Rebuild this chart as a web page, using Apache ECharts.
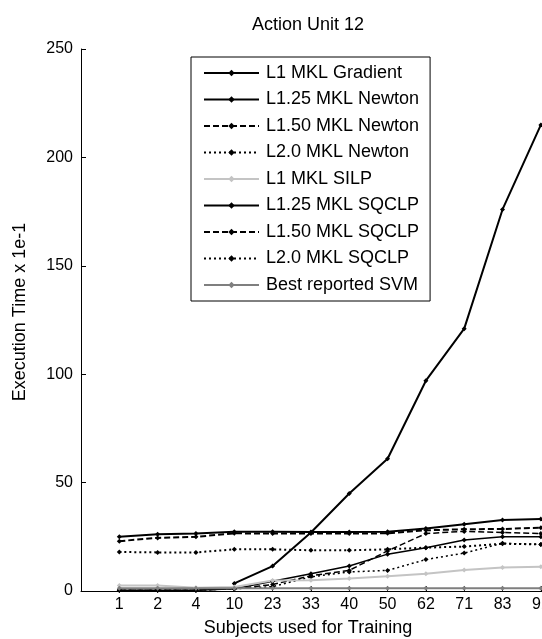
<!DOCTYPE html>
<html>
<head>
<meta charset="utf-8">
<script src="https://cdn.jsdelivr.net/npm/echarts@6/dist/echarts.min.js"></script>
<style>
  html, body { margin: 0; padding: 0; background: #fff; }
  #chart { width: 542px; height: 639px; }
</style>
</head>
<body>
<div id="chart"></div>
<script>
// subjects used for training (x categories)
const subjects = ["1", "2", "4", "10", "23", "33", "40", "50", "62", "71", "83", "91"];
const yTicks = [0, 50, 100, 150, 200, 250];

// execution time x 1e-1
const l1Gradient   = [null, null, null, 3.5, 11.5, 27, 45, 61, 97, 121, 176, 215];
const l125Newton   = [0.4, 0.4, 0.4, 1, 4.5, 8, 11.5, 17, 20, 23.5, 25, 25];
const l150Newton   = [0.4, 0.4, 0.4, 1, 3, 7, 9.5, 18.5, 26.5, 27.5, 27, 26.5];
const l20Newton    = [0.4, 0.4, 0.4, 1, 2, 6.5, 8.8, 9.5, 14.5, 17.5, 22, 21.5];
const l1Silp       = [2.5, 2.5, 1.5, 1.8, 4.8, 5, 5.8, 6.8, 8, 9.7, 10.8, 11.2];
const l125Sqclp    = [25, 26.2, 26.5, 27.3, 27.3, 27.2, 27.2, 27.3, 28.8, 30.8, 32.8, 33.2];
const l150Sqclp    = [23, 24.5, 25, 26.6, 26.5, 26.5, 26.5, 26.6, 28, 28.5, 28.6, 29.2];
const l20Sqclp     = [18, 17.8, 17.8, 19.2, 19.2, 18.8, 18.8, 19.2, 20, 20.5, 21.8, 21.5];
const bestSvm      = [1.3, 1.3, 1.3, 1.3, 1.3, 1.3, 1.3, 1.3, 1.3, 1.3, 1.3, 1.3];

const seriesDefs = [
  { name: "L1 MKL Gradient",    data: l1Gradient, color: "#000", width: 2,   type: "solid" },
  { name: "L1.25 MKL Newton",   data: l125Newton, color: "#000", width: 1.5, type: "solid" },
  { name: "L1.50 MKL Newton",   data: l150Newton, color: "#000", width: 1.5, type: [6, 3] },
  { name: "L2.0 MKL Newton",    data: l20Newton,  color: "#000", width: 1.5, type: [2, 3] },
  { name: "L1 MKL SILP",        data: l1Silp,     color: "#c4c4c4", width: 2, type: "solid" },
  { name: "L1.25 MKL SQCLP",    data: l125Sqclp,  color: "#000", width: 2,   type: "solid" },
  { name: "L1.50 MKL SQCLP",    data: l150Sqclp,  color: "#000", width: 2,   type: [6, 3] },
  { name: "L2.0 MKL SQCLP",     data: l20Sqclp,   color: "#000", width: 2,   type: [2, 3] },
  { name: "Best reported SVM",  data: bestSvm,    color: "#7f7f7f", width: 2, type: "solid" }
];

const font = "Liberation Sans, Arial, sans-serif";

const chart = echarts.init(document.getElementById("chart"));

const series = seriesDefs.map(function (s) {
  return {
    name: s.name,
    type: "line",
    symbol: "diamond",
    symbolSize: 5,
    showAllSymbol: true,
    connectNulls: false,
    data: s.data.map(function (v, i) { return v === null ? null : [i + 1, v]; }),
    lineStyle: { color: s.color, width: s.width, type: s.type },
    itemStyle: { color: s.color, borderWidth: 0 }
  };
});

const option = {
  animation: false,
  backgroundColor: "#fff",
  textStyle: { fontFamily: font },
  // the plot runs to the right edge of the picture, so the last label is cut
  grid: { left: 81, right: 0, top: 49, bottom: 48, containLabel: false, outerBoundsMode: "none" },
  legend: {
    orient: "vertical",
    left: 191,
    top: 57,
    padding: [7, 11, 7, 12],
    itemWidth: 55,
    itemHeight: 8,
    itemGap: 8.5,
    backgroundColor: "#fff",
    borderColor: "#000",
    borderWidth: 1,
    borderRadius: 0,
    textStyle: { fontFamily: font, fontSize: 18, color: "#000", padding: [0, 0, 0, 2] },
    data: seriesDefs.map(function (s) { return s.name; })
  },
  xAxis: {
    type: "value",
    min: 0,
    max: 12.03,
    interval: 1,
    axisLine: { lineStyle: { color: "#000", width: 1 } },
    axisTick: { inside: true, length: 5, lineStyle: { color: "#000" } },
    axisLabel: {
      color: "#000",
      fontSize: 16,
      fontFamily: font,
      margin: 6,
      showMaxLabel: false,
      hideOverlap: false,
      formatter: function (v) { return Number.isInteger(v) ? (subjects[v - 1] || "") : ""; }
    },
    splitLine: { show: false }
  },
  yAxis: {
    type: "value",
    min: 0,
    max: 250,
    interval: 50,
    axisLine: { show: true, lineStyle: { color: "#000", width: 1 } },
    axisTick: { show: true, inside: true, length: 5, lineStyle: { color: "#000" } },
    axisLabel: {
      color: "#000",
      fontSize: 16,
      fontFamily: font,
      margin: 8,
      formatter: function (v) { return yTicks.indexOf(v) >= 0 ? String(v) : ""; }
    },
    splitLine: { show: false }
  },
  graphic: [
    {
      type: "text", x: 308, y: 25,
      style: { text: "Action Unit 12", font: "18px " + font, fill: "#000", align: "center", verticalAlign: "middle" }
    },
    {
      type: "text", x: 308, y: 628,
      style: { text: "Subjects used for Training", font: "18px " + font, fill: "#000", align: "center", verticalAlign: "middle" }
    },
    {
      type: "text", x: 20, y: 312, rotation: Math.PI / 2,
      style: { text: "Execution Time x 1e-1", font: "18px " + font, fill: "#000", align: "center", verticalAlign: "middle" }
    }
  ],
  series: series
};

chart.setOption(option);
</script>
</body>
</html>
